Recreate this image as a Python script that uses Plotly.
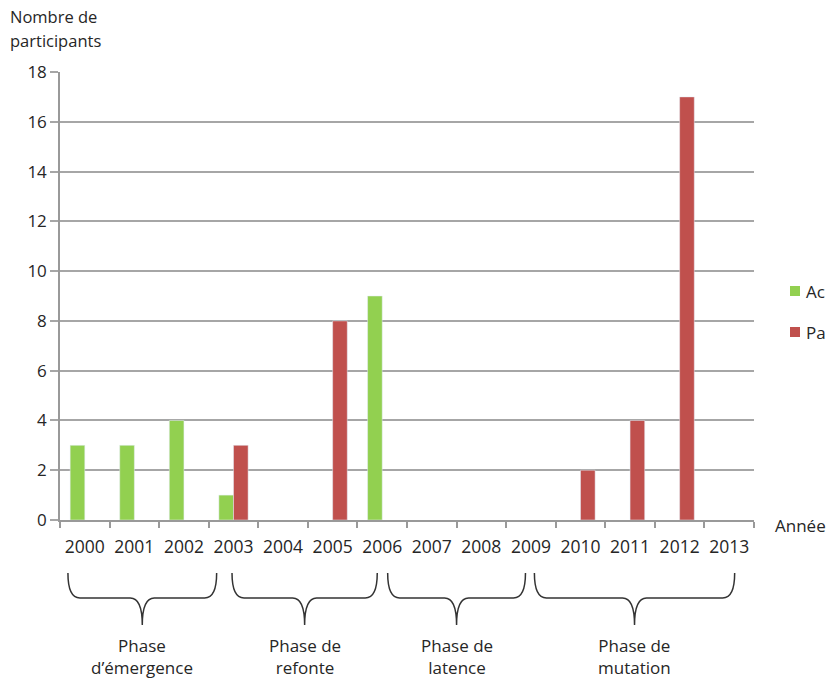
import plotly.graph_objects as go

years = [str(y) for y in range(2000, 2014)]
actifs = [3, 3, 4, 1, None, None, 9, None, None, None, None, None, None, None]
passifs = [None, None, None, 3, None, 8, None, None, None, None, 2, 4, 17, None]
series_names = ["Ac", "Pa"]
phase_labels = ["Phase<br>d’émergence", "Phase de<br>refonte", "Phase de<br>latence", "Phase de<br>mutation"]

GREEN = "#92D050"
RED = "#C0504D"
FONT = "Open Sans"
TXT = "#262626"

W, H = 828, 679
L, R, T, B = 60, 74, 72, 159
PW, PH = W - L - R, H - T - B
N = len(years)

# brace extents in category-index units
phase_spans = [(-0.34, 2.66), (2.97, 5.90), (6.11, 8.89), (9.07, 13.11)]

def px_x(i):
    return (i + 0.5) / N  # paper x

def py(ypix):
    return (H - B - ypix) / PH  # paper y from pixel y

def ppx(xpix):
    return (xpix - L) / PW

fig = go.Figure()
colors = [GREEN, RED]
for name, vals, col in zip(series_names, [actifs, passifs], colors):
    fig.add_trace(go.Bar(x=years, y=vals, name=name, marker_color=col, showlegend=False))

shapes = []
annotations = []

# legend (drawn manually to match spacing)
leg_y = [291, 332]
for name, col, yc in zip(series_names, colors, leg_y):
    shapes.append(dict(type="rect", xref="paper", yref="paper",
                       x0=ppx(790), x1=ppx(800), y0=py(yc + 5), y1=py(yc - 5),
                       fillcolor=col, line=dict(width=0)))
    annotations.append(dict(text=name, x=ppx(804), y=py(yc), xref="paper", yref="paper",
                            xanchor="left", yanchor="middle", showarrow=False,
                            font=dict(family=FONT, size=17, color=TXT)))

y_top, y_mid, y_tip = 573, 598, 625
r = 12
for (a, b), lab in zip(phase_spans, phase_labels):
    x0, x1 = px_x(a), px_x(b)
    xm = (x0 + x1) / 2
    rx = r / PW
    path = (f"M {x0},{py(y_top)} Q {x0},{py(y_mid)} {x0+rx},{py(y_mid)} "
            f"L {xm-rx},{py(y_mid)} Q {xm},{py(y_mid)} {xm},{py(y_tip)} "
            f"Q {xm},{py(y_mid)} {xm+rx},{py(y_mid)} "
            f"L {x1-rx},{py(y_mid)} Q {x1},{py(y_mid)} {x1},{py(y_top)}")
    shapes.append(dict(type="path", path=path, xref="paper", yref="paper",
                       line=dict(color="#333333", width=1.5)))
    annotations.append(dict(text=lab, x=xm, y=py(632), xref="paper", yref="paper",
                            xanchor="center", yanchor="top", showarrow=False,
                            font=dict(family=FONT, size=17, color=TXT)))

annotations.append(dict(text="Année", x=ppx(773), y=py(525), xref="paper", yref="paper",
                        xanchor="left", yanchor="middle", showarrow=False,
                        font=dict(family=FONT, size=17, color=TXT)))
annotations.append(dict(text="Nombre de", x=ppx(8), y=py(16), xref="paper", yref="paper",
                        xanchor="left", yanchor="middle", showarrow=False,
                        font=dict(family=FONT, size=16.5, color=TXT)))
annotations.append(dict(text="participants", x=ppx(8), y=py(41), xref="paper", yref="paper",
                        xanchor="left", yanchor="middle", showarrow=False,
                        font=dict(family=FONT, size=16.5, color=TXT)))

fig.update_layout(
    width=W, height=H,
    margin=dict(l=L, r=R, t=T, b=B, autoexpand=False),
    plot_bgcolor="white", paper_bgcolor="white",
    barmode="group", bargap=0.41, bargroupgap=0,
    font=dict(family=FONT, size=17, color=TXT),
    showlegend=False,
    shapes=shapes, annotations=annotations,
    xaxis=dict(type="category", range=[-0.5, N - 0.5], showgrid=False,
               showline=True, linecolor="#999", linewidth=1.5,
               ticks="outside", tickson="boundaries", ticklen=6, tickcolor="#999",
               tickwidth=1.5, ticklabelstandoff=10,
               tickfont=dict(family=FONT, size=17.5, color=TXT)),
    yaxis=dict(range=[0, 18], dtick=2, showgrid=True, gridcolor="#A6A6A6", gridwidth=1.5,
               showline=True, linecolor="#999", linewidth=1.5, zeroline=False,
               ticks="outside", ticklen=8, tickcolor="#A6A6A6", tickwidth=1.5,
               tickfont=dict(family=FONT, size=17, color=TXT)),
)

fig.write_html("out.html")
